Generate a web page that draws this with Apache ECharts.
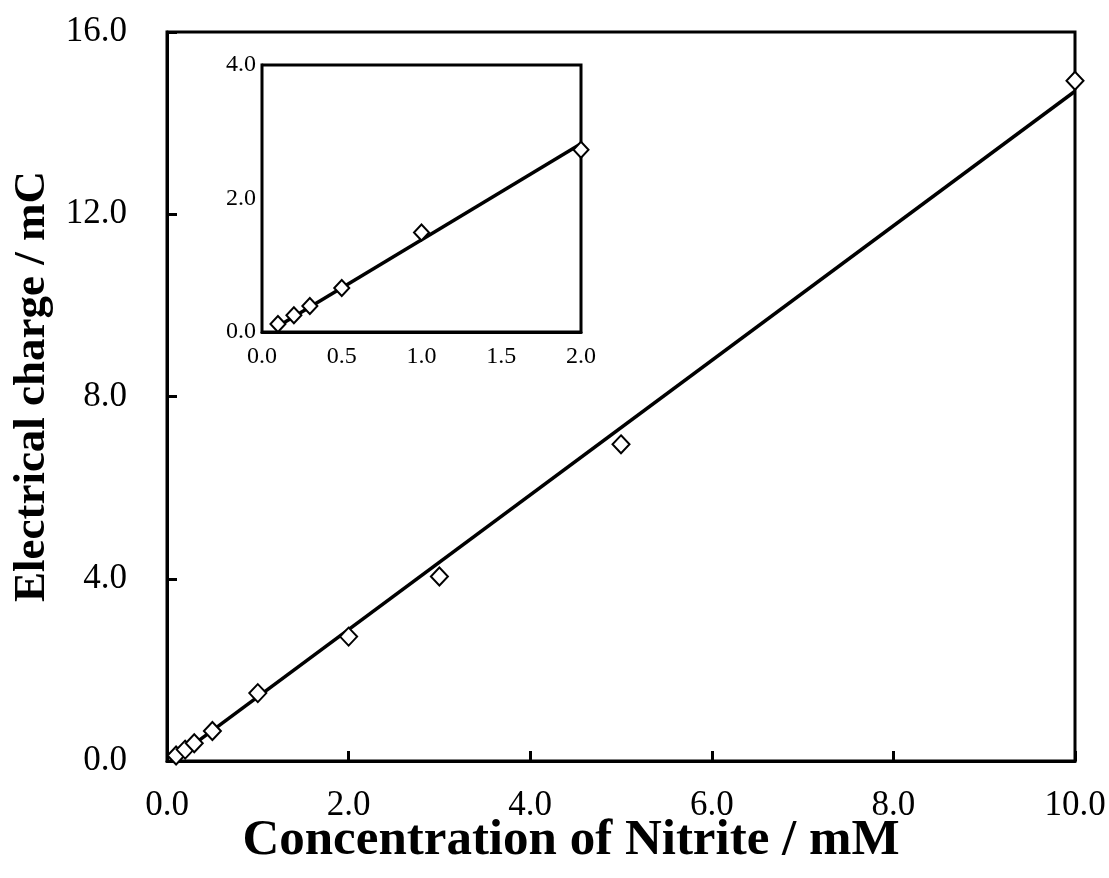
<!DOCTYPE html>
<html><head><meta charset="utf-8">
<script src="https://cdn.jsdelivr.net/npm/echarts@6/dist/echarts.min.js"></script>
<style>html,body{margin:0;padding:0;background:#fff}#c{width:1109px;height:878px}</style>
</head><body><div id="c"></div>
<script>
const concentration = [0.1, 0.2, 0.3, 0.5, 1.0, 2.0, 3.0, 5.0, 10.0];
const charge = [0.12, 0.25, 0.39, 0.66, 1.49, 2.73, 4.05, 6.95, 14.93];
const fitMainX = [0.1, 10.0];
const fitMainY = [0.08, 14.70];
const insetConcentration = [0.1, 0.2, 0.3, 0.5, 1.0, 2.0];
const insetCharge = [0.12, 0.25, 0.39, 0.66, 1.49, 2.73];
const fitInsetX = [0.09, 2.0];
const fitInsetY = [0.07, 2.82];
const xTitle = 'Concentration of Nitrite / mM';
const yTitle = 'Electrical charge / mC';

const font = '"Liberation Serif", "Times New Roman", serif';
const chart = echarts.init(document.getElementById('c'));
const pairs = (xs, ys) => xs.map((x, i) => [x, ys[i]]);
const symStyle = {color: '#fff', borderColor: '#000', borderWidth: 2, opacity: 1};

chart.setOption({
  animation: false,
  backgroundColor: '#fff',
  grid: [
    {left: 167, top: 32, right: 34, bottom: 117, show: true, borderColor: '#000', borderWidth: 3, backgroundColor: 'transparent', outerBoundsMode: 'none', containLabel: false},
    {left: 262, top: 65, width: 319, height: 267, show: true, borderColor: '#000', borderWidth: 3, backgroundColor: '#fff', z: 5, outerBoundsMode: 'none', containLabel: false}
  ],
  xAxis: [
    {gridIndex: 0, type: 'value', min: 0, max: 10, interval: 2,
     name: xTitle, nameLocation: 'middle', nameGap: 54, nameMoveOverlap: false,
     nameTextStyle: {fontFamily: font, fontWeight: 'bold', fontSize: 51, color: '#000', padding: [0, 100, 0, 0]},
     axisLine: {show: true, lineStyle: {color: '#000', width: 3}},
     axisTick: {show: true, inside: true, length: 10, lineStyle: {color: '#000', width: 3}},
     axisLabel: {fontFamily: font, fontSize: 35, color: '#000', margin: 27, formatter: v => v.toFixed(1)},
     splitLine: {show: false}},
    {gridIndex: 1, type: 'value', min: 0, max: 2, interval: 0.5,
     axisLine: {show: true, lineStyle: {color: '#000', width: 3}},
     axisTick: {show: true, inside: true, length: 7, lineStyle: {color: '#000', width: 2}},
     axisLabel: {fontFamily: font, fontSize: 24, color: '#000', margin: 13, formatter: v => v.toFixed(1)},
     splitLine: {show: false}}
  ],
  yAxis: [
    {gridIndex: 0, type: 'value', min: 0, max: 16, interval: 4,
     name: yTitle, nameLocation: 'middle', nameGap: 112, nameMoveOverlap: false,
     nameTextStyle: {fontFamily: font, fontWeight: 'bold', fontSize: 45, color: '#000', padding: [0, 0, 0, 20]},
     axisLine: {show: true, lineStyle: {color: '#000', width: 3}},
     axisTick: {show: true, inside: true, length: 10, lineStyle: {color: '#000', width: 3}},
     axisLabel: {fontFamily: font, fontSize: 35, color: '#000', margin: 40, formatter: v => v.toFixed(1)},
     splitLine: {show: false}},
    {gridIndex: 1, type: 'value', min: 0, max: 4, interval: 2,
     axisLine: {show: true, lineStyle: {color: '#000', width: 3}},
     axisTick: {show: true, inside: true, length: 7, lineStyle: {color: '#000', width: 2}},
     axisLabel: {fontFamily: font, fontSize: 24, color: '#000', margin: 6, formatter: v => v.toFixed(1)},
     splitLine: {show: false}}
  ],
  series: [
    {type: 'line', xAxisIndex: 0, yAxisIndex: 0, data: pairs(fitMainX, fitMainY), showSymbol: false, symbol: 'none',
     lineStyle: {color: '#000', width: 3.5}, z: 2},
    {type: 'scatter', xAxisIndex: 0, yAxisIndex: 0, data: pairs(concentration, charge), symbol: 'diamond', symbolSize: [17, 18],
     itemStyle: symStyle, z: 3},
    {type: 'line', xAxisIndex: 1, yAxisIndex: 1, data: pairs(fitInsetX, fitInsetY), showSymbol: false, symbol: 'none',
     lineStyle: {color: '#000', width: 3.5}, z: 6},
    {type: 'scatter', xAxisIndex: 1, yAxisIndex: 1, data: pairs(insetConcentration, insetCharge), symbol: 'diamond', symbolSize: [15, 16],
     itemStyle: symStyle, z: 7}
  ]
});
</script></body></html>
